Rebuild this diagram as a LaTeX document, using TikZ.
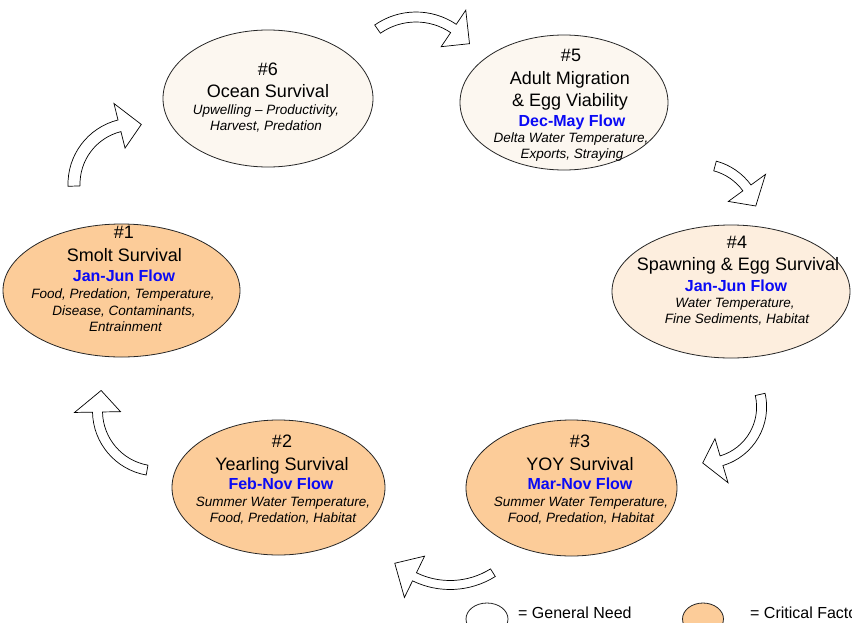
\documentclass[tikz,border=0pt]{standalone}
\usepackage{fontspec}
\setmainfont{Liberation Sans}
\usetikzlibrary{shapes.geometric}
\definecolor{critfill}{RGB}{252,204,153}
\definecolor{genfill}{RGB}{252,247,240}
\definecolor{genpeach}{RGB}{253,238,222}
\definecolor{flowblue}{RGB}{10,10,245}
\tikzset{
  ell/.style={ellipse, draw=black!85, line width=0.8pt, inner sep=0pt},
  gen/.style={ell, fill=genfill},
  crit/.style={ell, fill=critfill},
  ttl/.style={anchor=base, font=\fontsize{18}{20}\selectfont, inner sep=0pt},
  flow/.style={anchor=base, font=\fontsize{16}{18}\selectfont\bfseries, text=flowblue, inner sep=0pt},
  fac/.style={anchor=base, font=\fontsize{13.5}{16}\selectfont\itshape, inner sep=0pt},
  leg/.style={anchor=base west, font=\fontsize{16}{18}\selectfont, inner sep=0pt},
  blockarrow/.style={draw=black, fill=white, line width=0.7pt, line join=miter},
}
% #1 cx, #2 cy, #3 R, #4 start angle, #5 end angle, #6 tip angle, #7 shaft width, #8 head width
\newcommand{\blockarr}[8]{%
  \draw[blockarrow] ([shift={(#1,#2)}]#4:{#3+#7/2})
    arc[start angle=#4, end angle=#5, radius={#3+#7/2}]
    -- ([shift={(#1,#2)}]#5:{#3+#8/2})
    -- ([shift={(#1,#2)}]#6:{#3})
    -- ([shift={(#1,#2)}]#5:{#3-#8/2})
    -- ([shift={(#1,#2)}]#5:{#3-#7/2})
    arc[start angle=#5, end angle=#4, radius={#3-#7/2}]
    -- cycle;}
\begin{document}
\begin{tikzpicture}[x=1pt,y=1pt]
\useasboundingbox (0,0) rectangle (852,-622);
\clip (0,0) rectangle (852,-622);
\fill[white] (0,0) rectangle (852,-622);

% ellipses
\node[gen, minimum width=210pt, minimum height=137pt] (e6) at (268,-98.5) {};
\node[gen, minimum width=208pt, minimum height=135pt] (e5) at (564,-102.5) {};
\node[ell, fill=genpeach, minimum width=238pt, minimum height=133pt] (e4) at (731,-291.5) {};
\node[crit, minimum width=237pt, minimum height=133pt] (e1) at (121.5,-290.5) {};
\node[crit, minimum width=213pt, minimum height=135pt] (e2) at (278.5,-487.5) {};
\node[crit, minimum width=211pt, minimum height=136pt] (e3) at (571.5,-488) {};

% texts #6
\node[ttl] (t6a) at (268,-75) {\#6};
\node[ttl] (t6b) at (268,-97) {Ocean Survival};
\node[fac] (t6c) at (266,-114) {Upwelling – Productivity,};
\node[fac] (t6d) at (266,-130) {Harvest, Predation};
% #5
\node[ttl] (t5a) at (571,-61) {\#5};
\node[ttl] (t5b) at (570,-84) {Adult Migration};
\node[ttl] (t5c) at (570,-106) {\& Egg Viability};
\node[flow] (t5d) at (572,-126) {Dec-May Flow};
\node[fac] (t5e) at (571,-142) {Delta Water Temperature,};
\node[fac] (t5f) at (572,-158) {Exports, Straying};
% #4
\node[ttl] (t4a) at (737,-248) {\#4};
\node[ttl] (t4b) at (738,-270) {Spawning \& Egg Survival};
\node[flow] (t4c) at (736,-291) {Jan-Jun Flow};
\node[fac] (t4d) at (735,-307) {Water Temperature,};
\node[fac] (t4e) at (737,-323) {Fine Sediments, Habitat};
% #1
\node[ttl] (t1a) at (124,-238) {\#1};
\node[ttl] (t1b) at (124.5,-261) {Smolt Survival};
\node[flow] (t1c) at (124,-281) {Jan-Jun Flow};
\node[fac] (t1d) at (123,-298) {Food, Predation, Temperature,};
\node[fac] (t1e) at (124,-315) {Disease, Contaminants,};
\node[fac] (t1f) at (125.5,-331) {Entrainment};
% #2
\node[ttl] (t2a) at (282,-447) {\#2};
\node[ttl] (t2b) at (282,-470) {Yearling Survival};
\node[flow] (t2c) at (281,-489) {Feb-Nov Flow};
\node[fac] (t2d) at (283,-506) {Summer Water Temperature,};
\node[fac] (t2e) at (283,-522) {Food, Predation, Habitat};
% #3
\node[ttl] (t3a) at (580,-447) {\#3};
\node[ttl] (t3b) at (580,-470) {YOY Survival};
\node[flow] (t3c) at (580,-489) {Mar-Nov Flow};
\node[fac] (t3d) at (581,-506) {Summer Water Temperature,};
\node[fac] (t3e) at (581,-522) {Food, Predation, Habitat};

% block arrows
\blockarr{416}{-84}{67}{125}{56}{37}{10}{44}
\blockarr{700}{-222}{58}{75}{36}{16}{10}{46}
\blockarr{705.6}{-407}{56}{13}{-73.5}{-93}{10}{46}
\blockarr{450}{-504}{81}{-58}{-116}{-133}{9}{46}
\blockarr{157.5}{-411}{60}{260}{181}{160}{10}{46}
\blockarr{134}{-184}{60}{182}{104}{83}{12}{46}

% legend
\node[ell, fill=white, minimum width=42pt, minimum height=32pt] (lg1) at (487,-619) {};
\node[leg] (lt1) at (518,-618) {= General Need};
\node[crit, minimum width=41pt, minimum height=32pt] (lg2) at (703,-619) {};
\node[leg] (lt2) at (750,-618) {= Critical Factor};
\end{tikzpicture}
\end{document}
